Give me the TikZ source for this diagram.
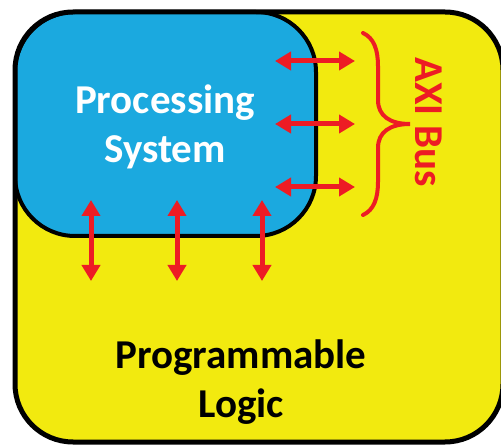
\documentclass[tikz,border=0pt]{standalone}
\usepackage{fontspec}
\setmainfont{Carlito}
\usepackage{xcolor}
\definecolor{cPL}{HTML}{F2EA0F}
\definecolor{cPS}{HTML}{1BA9DF}
\definecolor{cAxi}{HTML}{ED1C24}
\usepackage{tikz}
\usetikzlibrary{arrows.meta,positioning}

\begin{document}
\begin{tikzpicture}[x=1pt,y=-1pt,
  big/.style={font=\fontsize{41}{49}\selectfont\bfseries,align=center,inner sep=0pt},
  psbox/.style={fill=cPS,draw=black,line width=4pt,rounded corners=60pt},
  plbox/.style={draw=black,line width=5pt,rounded corners=58pt},
  bus/.style={{Triangle[length=16pt,width=18pt]}-{Triangle[length=16pt,width=18pt]},
    cAxi,line width=5pt}]
\useasboundingbox (0,0) rectangle (501,446);
% programmable logic and processing system
\fill[cPL,rounded corners=58pt] (15,12) rectangle (503,442);
\draw[psbox] (15,12) rectangle (316,236);
\draw[plbox] (15,12) rectangle (503,442);
\node[big,white] (ps) at (165,127) {Processing\\System};
\node[big,black] (pl) at (241,382) {Programmable\\Logic};
% interconnect arrows
\foreach \y [count=\i] in {61,124,187} {
  \coordinate (h\i a) at (275,\y);
  \coordinate (h\i b) at (355,\y);
  \draw[bus] (h\i a) -- (h\i b);
}
\foreach \x [count=\i] in {91,177,262} {
  \coordinate (v\i a) at (\x,200);
  \coordinate (v\i b) at (\x,281);
  \draw[bus] (v\i a) -- (v\i b);
}
% brace and bus label
\coordinate (brtop) at (363,33);
\coordinate (brtip) at (410,124);
\coordinate (brbot) at (363,215);
\draw[cAxi,line width=4pt,line cap=round,line join=miter]
  (brtop) .. controls (374,38) and (378,50) .. (378,66) -- (378,100)
  .. controls (378,116) and (390,124) .. (brtip)
  .. controls (390,124) and (378,132) .. (378,148) -- (378,182)
  .. controls (378,198) and (374,210) .. (brbot);
\node[font=\fontsize{41}{46}\selectfont\bfseries,text=cAxi,rotate=-90,inner sep=0pt]
  (axi) at (429,122) {AXI Bus};
\end{tikzpicture}
\end{document}
